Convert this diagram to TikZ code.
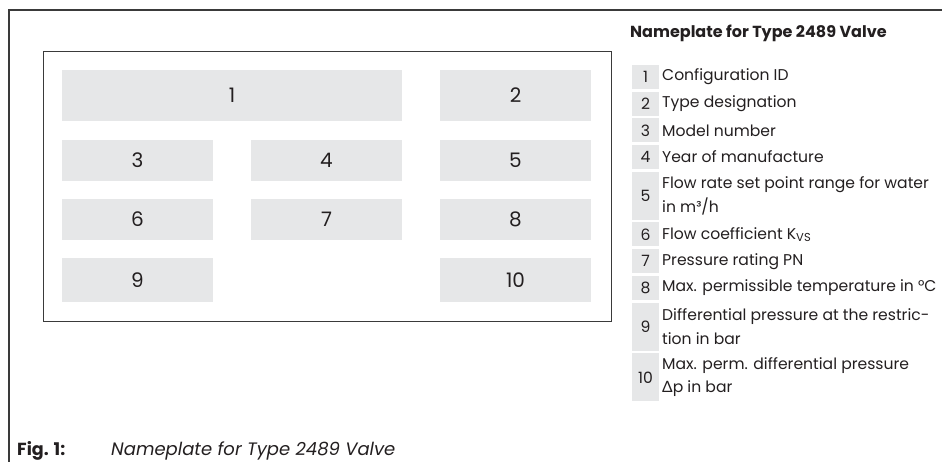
\documentclass[tikz,border=0pt]{standalone}
\usepackage{fontspec}
\setmainfont{Poppins}
\newfontfamily\deltafont{Lato}
\definecolor{plategray}{HTML}{E6E7E8}
\definecolor{linegray}{HTML}{3A3A3A}
\definecolor{txt}{HTML}{231F20}
\tikzset{
  frame/.style={draw=linegray, line width=1.3pt},
  gbox/.style={fill=plategray, draw=none, inner sep=0pt, text=txt, font=\fontsize{20}{20}\selectfont},
  numbox/.style={fill=plategray, draw=none, inner sep=0pt, minimum width=27pt, text=txt, font=\fontsize{15.6}{23.5}\selectfont},
  itemtext/.style={anchor=west, inner sep=0pt, align=left, text=txt, font=\fontsize{15.6}{23.5}\selectfont},
}
\begin{document}
\begin{tikzpicture}[x=1pt,y=-1pt]
\useasboundingbox (0,0) rectangle (942,462);
% outer frame
\coordinate (ob) at (9,462);
\coordinate (oc) at (9,10);
\coordinate (or) at (942,10);
\draw[frame] (ob) -- (oc) -- (or);
% inner nameplate
\node[frame, inner sep=0pt, minimum width=568pt, minimum height=270pt, anchor=north west] (plate) at (43,51) {};
% plate fields
\node[gbox, minimum width=340pt, minimum height=51pt] (b1) at (232,95.5) {1};
\node[gbox, minimum width=151pt, minimum height=51pt] (b2) at (515.5,95.5) {2};
\node[gbox, minimum width=151pt, minimum height=41pt] (b3) at (137.5,160.5) {3};
\node[gbox, minimum width=151pt, minimum height=41pt] (b4) at (326.5,160.5) {4};
\node[gbox, minimum width=151pt, minimum height=41pt] (b5) at (515.5,160.5) {5};
\node[gbox, minimum width=151pt, minimum height=41pt] (b6) at (137.5,219.5) {6};
\node[gbox, minimum width=151pt, minimum height=41pt] (b7) at (326.5,219.5) {7};
\node[gbox, minimum width=151pt, minimum height=41pt] (b8) at (515.5,219.5) {8};
\node[gbox, minimum width=151pt, minimum height=44pt] (b9) at (137.5,280) {9};
\node[gbox, minimum width=151pt, minimum height=44pt] (b10) at (515.5,280) {10};
% legend
\node[anchor=west, inner sep=0pt, text=txt, font=\fontsize{16}{16}\selectfont\bfseries] (title) at (630,33) {Nameplate for Type 2489 Valve};
\node[numbox, minimum height=24pt] (n1) at (645.5,77) {1};
\node[itemtext] (t1) at (662,77) {Configuration ID};
\node[numbox, minimum height=24pt] (n2) at (645.5,103.7) {2};
\node[itemtext] (t2) at (662,103.7) {Type designation};
\node[numbox, minimum height=24pt] (n3) at (645.5,130.4) {3};
\node[itemtext] (t3) at (662,130.4) {Model number};
\node[numbox, minimum height=24pt] (n4) at (645.5,157.1) {4};
\node[itemtext] (t4) at (662,157.1) {Year of manufacture};
\node[numbox, minimum height=48pt] (n5) at (645.5,195.8) {5};
\node[itemtext] (t5) at (662,195.8) {Flow rate set point range for water\\in m³/h};
\node[numbox, minimum height=24pt] (n6) at (645.5,234.5) {6};
\node[itemtext] (t6) at (662,234.5) {Flow coefficient K\raisebox{-0.3ex}{\fontsize{11.5}{11.5}\selectfont VS}};
\node[numbox, minimum height=24pt] (n7) at (645.5,261.2) {7};
\node[itemtext] (t7) at (662,261.2) {Pressure rating PN};
\node[numbox, minimum height=24pt] (n8) at (645.5,287.9) {8};
\node[itemtext] (t8) at (662,287.9) {Max. permissible temperature in °C};
\node[numbox, minimum height=48pt] (n9) at (645.5,326.6) {9};
\node[itemtext] (t9) at (662,326.6) {Differential pressure at the restric-\\tion in bar};
\node[numbox, minimum height=48pt] (n10) at (645.5,377.3) {10};
\node[itemtext] (t10) at (662,377.3) {Max. perm. differential pressure\\{\deltafont Δ}p in bar};
% caption
\node[anchor=base west, inner sep=0pt, text=txt, font=\fontsize{17.5}{17.5}\selectfont\bfseries] (figlbl) at (17,455) {Fig. 1:};
\node[anchor=base west, inner sep=0pt, text=txt, font=\fontsize{18}{18}\selectfont\itshape] (figcap) at (111,455) {Nameplate for Type 2489 Valve};
\end{tikzpicture}
\end{document}
